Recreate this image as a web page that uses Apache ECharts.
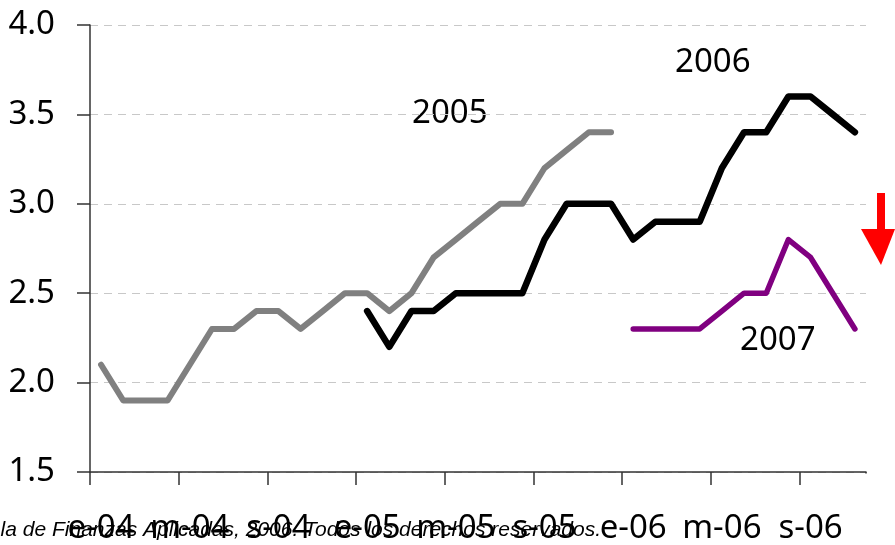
<!DOCTYPE html>
<html>
<head>
<meta charset="utf-8">
<script src="https://cdn.jsdelivr.net/npm/echarts@6/dist/echarts.min.js"></script>
<style>
  html, body { margin: 0; padding: 0; background: #fff; }
  #chart { width: 895px; height: 545px; }
</style>
</head>
<body>
<div id="chart"></div>
<script>
// meses de encuesta, ene-2004 a nov-2006
const months = [
  "e-04", "f-04", "m-04", "a-04", "m-04", "j-04", "j-04", "a-04", "s-04", "o-04", "n-04", "d-04",
  "e-05", "f-05", "m-05", "a-05", "m-05", "j-05", "j-05", "a-05", "s-05", "o-05", "n-05", "d-05",
  "e-06", "f-06", "m-06", "a-06", "m-06", "j-06", "j-06", "a-06", "s-06", "o-06", "n-06"
];

const yTicks = [1.5, 2.0, 2.5, 3.0, 3.5, 4.0];

// expectativas para cada año
const exp2005 = [
  2.1, 1.9, 1.9, 1.9, 2.1, 2.3, 2.3, 2.4, 2.4, 2.3, 2.4, 2.5,
  2.5, 2.4, 2.5, 2.7, 2.8, 2.9, 3.0, 3.0, 3.2, 3.3, 3.4, 3.4,
  null, null, null, null, null, null, null, null, null, null, null
];
const exp2006 = [
  null, null, null, null, null, null, null, null, null, null, null, null,
  2.4, 2.2, 2.4, 2.4, 2.5, 2.5, 2.5, 2.5, 2.8, 3.0, 3.0, 3.0,
  2.8, 2.9, 2.9, 2.9, 3.2, 3.4, 3.4, 3.6, 3.6, 3.5, 3.4
];
const exp2007 = [
  null, null, null, null, null, null, null, null, null, null, null, null,
  null, null, null, null, null, null, null, null, null, null, null, null,
  2.3, 2.3, 2.3, 2.3, 2.4, 2.5, 2.5, 2.8, 2.7, 2.5, 2.3
];

const FONT = "Noto Sans";

const chart = echarts.init(document.getElementById("chart"), null, { renderer: "canvas" });

function lineSeries(name, data, color, width) {
  return {
    name: name,
    type: "line",
    data: data,
    showSymbol: false,
    symbol: "none",
    connectNulls: false,
    lineStyle: { color: color, width: width, cap: "round", join: "round" },
    z: 3
  };
}

const option = {
  animation: false,
  backgroundColor: "#fff",
  grid: { left: 90, right: 29, top: 25, bottom: 73, containLabel: false },
  xAxis: {
    type: "category",
    data: months,
    boundaryGap: true,
    axisLine: { show: true, lineStyle: { color: "#333", width: 1.5 } },
    axisTick: { show: true, interval: 3, length: 13, inside: false, lineStyle: { color: "#333", width: 1.5 } },
    axisLabel: {
      interval: 3,
      margin: 40,
      fontFamily: FONT,
      fontSize: 33,
      color: "#000"
    },
    splitLine: { show: false }
  },
  yAxis: {
    type: "value",
    min: yTicks[0],
    max: yTicks[yTicks.length - 1],
    interval: 0.5,
    axisLine: { show: true, lineStyle: { color: "#333", width: 1.5 } },
    axisTick: { show: true, length: 13, inside: false, lineStyle: { color: "#333", width: 1.5 } },
    axisLabel: {
      margin: 35,
      fontFamily: FONT,
      fontSize: 33,
      color: "#000",
      formatter: function (v) { return v.toFixed(1); }
    },
    splitLine: {
      show: true,
      lineStyle: { color: "#c8c8c8", width: 1, type: [8, 6] }
    }
  },
  series: [
    lineSeries("2005", exp2005, "#808080", 6),
    lineSeries("2006", exp2006, "#000000", 6.5),
    lineSeries("2007", exp2007, "#800080", 5.5)
  ],
  graphic: [
    // el eje original no tiene marca al final
    { type: "rect", z: 100, shape: { x: 864, y: 473.5, width: 10, height: 14 }, style: { fill: "#fff" } },
    { type: "text", left: 412, top: 97, style: { text: "2005", font: "33px 'Noto Sans'", fill: "#000" } },
    { type: "text", left: 675, top: 46, style: { text: "2006", font: "33px 'Noto Sans'", fill: "#000" } },
    { type: "text", left: 740, top: 324, style: { text: "2007", font: "33px 'Noto Sans'", fill: "#000" } },
    // flecha roja
    { type: "rect", shape: { x: 877, y: 193, width: 8, height: 38 }, style: { fill: "#ff0000" } },
    { type: "polygon", shape: { points: [[861, 229], [895, 229], [881, 265]] }, style: { fill: "#ff0000" } },
    // pie de página superpuesto
    {
      type: "text",
      x: 601,
      y: 530,
      z: 110,
      style: {
        text: "Escuela de Finanzas Aplicadas, 2006. Todos los derechos reservados.",
        font: "italic 21px 'Liberation Sans'",
        fill: "#000",
        align: "right",
        verticalAlign: "middle"
      }
    }
  ]
};

chart.setOption(option);
</script>
</body>
</html>
